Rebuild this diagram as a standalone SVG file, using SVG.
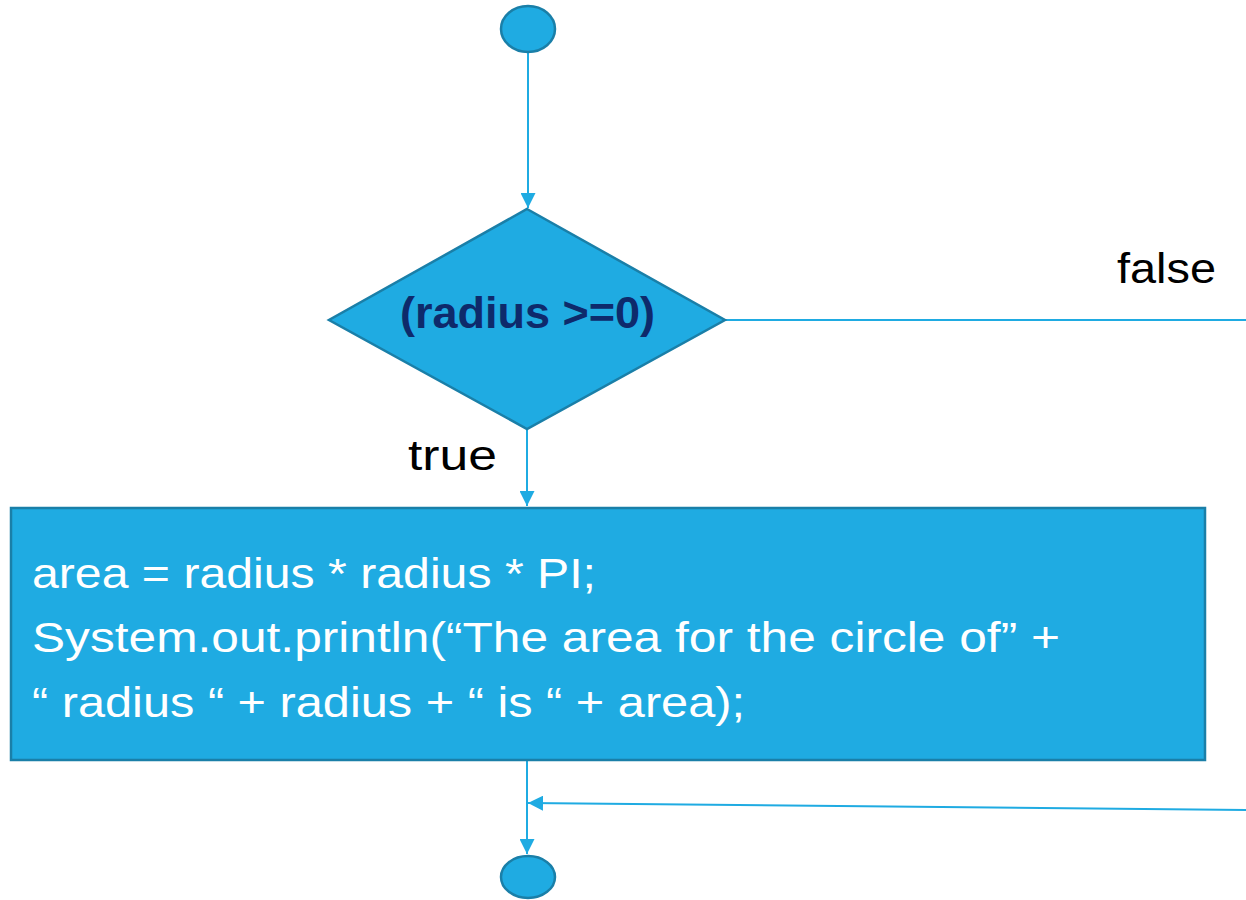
<svg xmlns="http://www.w3.org/2000/svg" width="1246" height="900" viewBox="0 0 1246 900">
<defs>
<style>
.shape{fill:#1fabe2;stroke:#1a7fa8;stroke-width:2.5}
.conn{fill:none;stroke:#1fabe2;stroke-width:2}
.lbl{font-family:"Liberation Sans",Arial,sans-serif;font-size:43px;fill:#000}
.code{font-family:"Liberation Sans",Arial,sans-serif;font-size:43px;fill:#fff}
.cond{font-family:"Liberation Sans",Arial,sans-serif;font-size:45px;font-weight:bold;fill:#0e2a6b}
</style>
<marker id="arr" viewBox="0 0 10 10" refX="10" refY="5" markerWidth="15" markerHeight="15" markerUnits="userSpaceOnUse" orient="auto">
<path d="M0,0 L10,5 L0,10 z" fill="#1fabe2"/>
</marker>
</defs>
<rect width="1246" height="900" fill="#fff"/>
<g id="connectors">
<line class="conn" x1="528" y1="52" x2="528" y2="208" marker-end="url(#arr)"/>
<line class="conn" x1="527" y1="429" x2="527" y2="506" marker-end="url(#arr)"/>
<line class="conn" x1="725" y1="320" x2="1246" y2="320"/>
<line class="conn" x1="527" y1="761" x2="527" y2="854" marker-end="url(#arr)"/>
<line class="conn" x1="1246" y1="810" x2="528" y2="803" marker-end="url(#arr)"/>
<text class="lbl" x="1117" y="283" textLength="99" lengthAdjust="spacingAndGlyphs">false</text>
<text class="lbl" x="408" y="470" textLength="89" lengthAdjust="spacingAndGlyphs">true</text>
</g>
<g id="start">
<ellipse class="shape" cx="528" cy="29" rx="27" ry="23"/>
</g>
<g id="decision">
<polygon class="shape" points="527,209 725,320 527,429 329,320"/>
<text class="cond" x="400" y="328" textLength="255" lengthAdjust="spacingAndGlyphs">(radius &gt;=0)</text>
</g>
<g id="process">
<rect class="shape" x="11" y="508" width="1194" height="252"/>
<text class="code" x="32" y="588" textLength="564" lengthAdjust="spacingAndGlyphs">area = radius * radius * PI;</text>
<text class="code" x="32" y="652" textLength="1028" lengthAdjust="spacingAndGlyphs">System.out.println(“The area for the circle of” +</text>
<text class="code" x="32" y="717" textLength="713" lengthAdjust="spacingAndGlyphs">“ radius “ + radius + “ is “ + area);</text>
</g>
<g id="end">
<ellipse class="shape" cx="528" cy="877" rx="27" ry="21"/>
</g>
</svg>
